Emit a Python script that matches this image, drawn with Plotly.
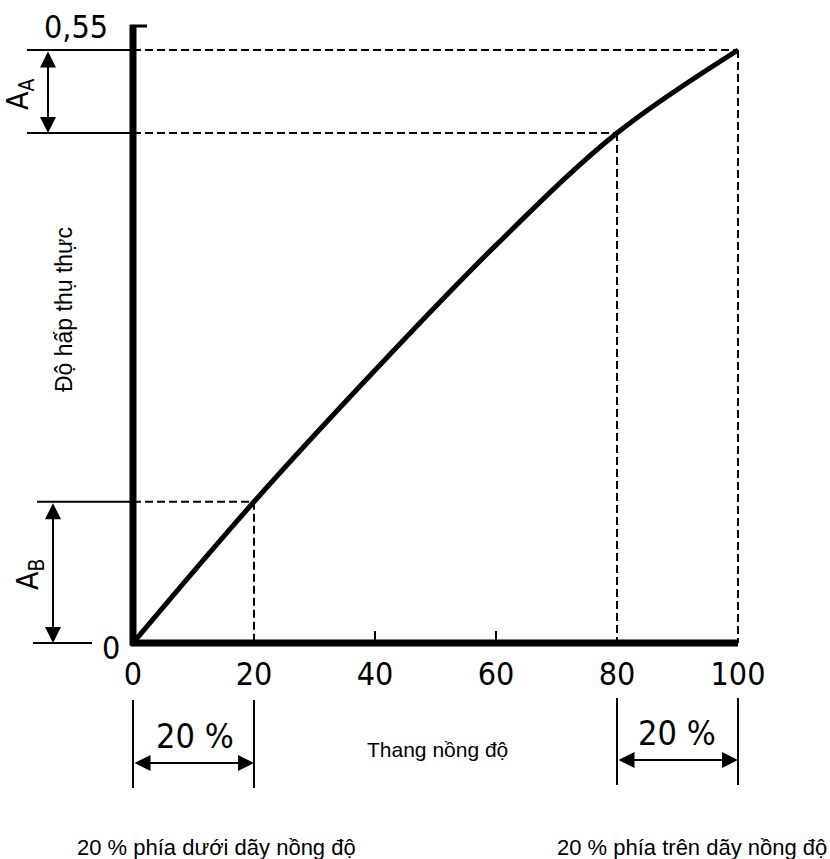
import plotly.graph_objects as go

# ---- data ----
conc = [0, 20, 40, 60, 80, 100]                   # concentration scale (%)
absorb = [0.0, 0.131, 0.253, 0.369, 0.473, 0.55]  # true absorbance
x_ticks = [0, 20, 40, 60, 80, 100]
x_ticklabels = ["0", "20", "40", "60", "80", "100"]
minor_ticks = [40, 60]
y_max_label = "0,55"
y_zero_label = "0"
label_AA = "A<sub>A</sub>"
label_AB = "A<sub>B</sub>"
y_title = "Độ hấp thụ thực"
x_title = "Thang nồng độ"
pct_label = "20 %"
lower_text = "20 % phía dưới dãy nồng độ"
upper_text = "20 % phía trên dãy nồng độ"

# ---- geometry (pixels) ----
W, H = 830, 859
L, R, T, B = 133, 738, 25, 643
PW, PH = R - L, B - T
Y_MAX = absorb[-1]
Y_TOP = Y_MAX * PH / (B - 50)
X_RANGE = [conc[0], conc[-1]]


def px(xp):
    return (xp - L) / PW


def py(yp):
    return (B - yp) / PH


def fx(v):
    return (v - X_RANGE[0]) / (X_RANGE[1] - X_RANGE[0])


def fy(v):
    return v / Y_TOP


NUM_FONT = "DejaVu Sans Condensed, DejaVu Sans, sans-serif"
TXT_FONT = "Liberation Sans, Arial, sans-serif"
BLK = "black"

fig = go.Figure()
fig.add_trace(go.Scatter(
    x=conc, y=absorb, mode="lines",
    line=dict(color=BLK, width=5, shape="spline", smoothing=1.0),
    cliponaxis=False, hoverinfo="skip", showlegend=False,
))

shapes = []
# axes
shapes.append(dict(type="line", xref="paper", yref="paper", x0=0, x1=0, y0=-0.004, y1=1,
                   line=dict(color=BLK, width=7)))
shapes.append(dict(type="line", xref="paper", yref="paper", x0=-0.004, x1=1, y0=0, y1=0,
                   line=dict(color=BLK, width=7)))
# top hook of the y axis
shapes.append(dict(type="line", xref="paper", yref="paper", x0=px(130), x1=px(147), y0=py(26), y1=py(26),
                   line=dict(color=BLK, width=3)))

# dashed guide lines for 20, 80, 100
i20, i80, i100 = conc.index(20), conc.index(80), conc.index(100)
DASH = "8px,4px"
for i in (i20, i80, i100):
    shapes.append(dict(type="line", xref="paper", yref="paper",
                       x0=fx(0), x1=fx(conc[i]), y0=fy(absorb[i]), y1=fy(absorb[i]),
                       line=dict(color=BLK, width=2, dash=DASH)))
    shapes.append(dict(type="line", xref="paper", yref="paper",
                       x0=fx(conc[i]), x1=fx(conc[i]), y0=fy(absorb[i]), y1=fy(0),
                       line=dict(color=BLK, width=2, dash=DASH)))

# solid extension lines to the left
for val, xstart, xend in ((absorb[i100], 27, 133), (absorb[i80], 27, 133),
                          (absorb[i20], 37, 133), (0.0, 33, 92)):
    shapes.append(dict(type="line", xref="paper", yref="paper",
                       x0=px(xstart), x1=px(xend), y0=fy(val), y1=fy(val),
                       line=dict(color=BLK, width=2)))

# bottom dimension brackets
for c, ytop, ybot in ((0, 700, 788), (20, 700, 788), (80, 698, 785), (100, 698, 785)):
    shapes.append(dict(type="line", xref="paper", yref="paper",
                       x0=fx(c), x1=fx(c), y0=py(ytop), y1=py(ybot),
                       line=dict(color=BLK, width=2)))

annotations = []


def txt(text, x, y, size, font=NUM_FONT, angle=0):
    annotations.append(dict(text=text, xref="paper", yref="paper", x=px(x), y=py(y),
                            xanchor="center", yanchor="middle", showarrow=False,
                            textangle=angle, font=dict(family=font, size=size, color=BLK)))


txt(y_max_label, 76, 27, 32)
txt(y_zero_label, 111, 648, 32)
txt(label_AA, 20, 95, 30, angle=-90)
txt(label_AB, 29, 575, 30, angle=-90)
txt(y_title, 64, 310, 23, font=TXT_FONT, angle=-90)
txt(x_title, 437, 749, 21, font=TXT_FONT)
txt(pct_label, 195, 736, 34)
txt(pct_label, 677, 733, 34)
txt(lower_text, 216, 847, 22, font=TXT_FONT)
txt(upper_text, 692, 847, 22, font=TXT_FONT)

ARW = dict(showarrow=True, arrowhead=2, startarrowhead=2, arrowside="end+start",
           arrowsize=1.6, startarrowsize=1.6, arrowwidth=2, arrowcolor=BLK, text="")
# vertical double arrows A_A and A_B
annotations.append(dict(xref="paper", yref="y", x=px(48), y=absorb[i80],
                        axref="pixel", ax=0, ayref="y", ay=absorb[i100], **ARW))
annotations.append(dict(xref="paper", yref="y", x=px(53), y=0.0,
                        axref="pixel", ax=0, ayref="y", ay=absorb[i20], **ARW))
# horizontal double arrows (20 % spans)
annotations.append(dict(xref="x", yref="paper", x=20, y=py(763),
                        axref="x", ax=0, ayref="pixel", ay=0, **ARW))
annotations.append(dict(xref="x", yref="paper", x=100, y=py(760),
                        axref="x", ax=80, ayref="pixel", ay=0, **ARW))

fig.update_layout(
    width=W, height=H,
    margin=dict(l=L, r=W - R, t=T, b=H - B, pad=0),
    paper_bgcolor="white", plot_bgcolor="white",
    shapes=shapes, annotations=annotations,
    xaxis=dict(range=X_RANGE, showgrid=False, zeroline=False, showline=False,
               tickmode="array", tickvals=x_ticks, ticktext=x_ticklabels, ticks="",
               ticklabelstandoff=9,
               tickfont=dict(family=NUM_FONT, size=32, color=BLK),
               minor=dict(tickmode="array", tickvals=minor_ticks, ticks="inside",
                          ticklen=12, tickwidth=2, tickcolor=BLK, showgrid=False)),
    yaxis=dict(range=[0, Y_TOP], showgrid=False, zeroline=False, showline=False,
               showticklabels=False, ticks=""),
    showlegend=False,
)

fig.write_html("out.html")
